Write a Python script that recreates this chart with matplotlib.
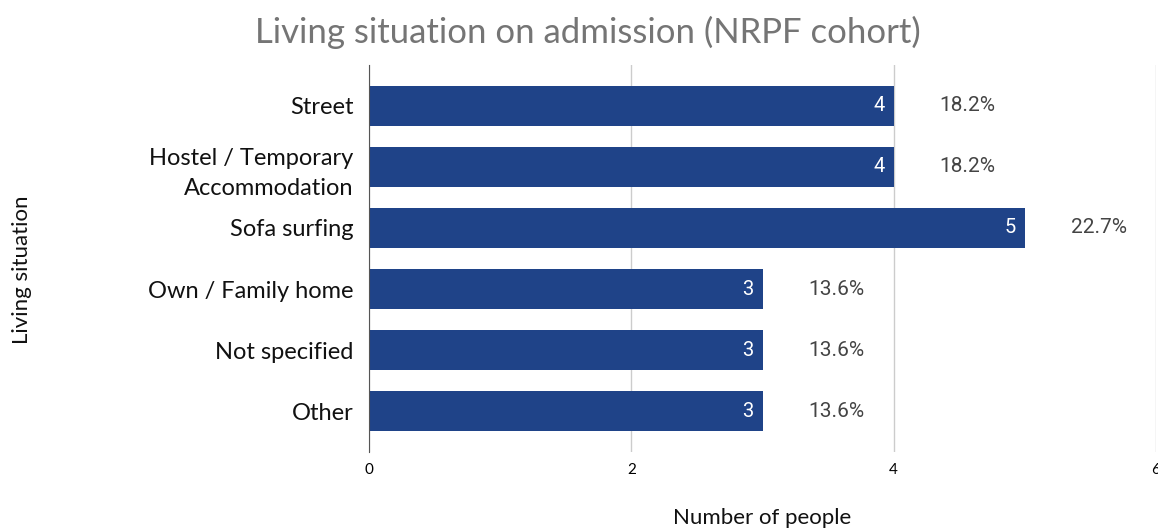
"""Living situation on admission (NRPF cohort) - horizontal bar chart."""

import matplotlib.pyplot as plt

categories = [
    "Street",
    "Hostel / Temporary\nAccommodation",
    "Sofa surfing",
    "Own / Family home",
    "Not specified",
    "Other",
]
counts = [4, 4, 5, 3, 3, 3]
percents = ["18.2%", "18.2%", "22.7%", "13.6%", "13.6%", "13.6%"]
xticks = [0, 2, 4, 6]

BAR = "#1f4388"
LABEL_FONT = ["Lato", "DejaVu Sans"]
VALUE_FONT = ["Roboto", "DejaVu Sans"]


def main() -> None:
    fig = plt.figure(figsize=(11.58, 5.31), dpi=100)
    ax = fig.add_axes([369 / 1158, 1 - 452 / 531, (1156 - 369) / 1158, (452 - 65) / 531])

    pos = list(range(len(categories)))
    ax.barh(pos, counts, height=0.65, color=BAR, zorder=3)

    for y, c, p in zip(pos, counts, percents):
        ax.text(c - 0.07, y, str(c), ha="right", va="center", color="white",
                fontsize=14.5, family=VALUE_FONT, zorder=4)
        ax.text(c + 0.35, y, p, ha="left", va="center", color="#444444",
                fontsize=15, family=VALUE_FONT)

    ax.set_xlim(0, 6)
    ax.set_ylim(len(categories) - 1 + 0.665, -0.665)
    ax.set_xticks(xticks)
    ax.set_xticklabels([str(t) for t in xticks], family=LABEL_FONT, fontsize=11)
    ax.set_yticks(pos)
    ax.set_yticklabels(categories, family=LABEL_FONT, fontsize=17, color="#111111",
                       linespacing=1.55)
    ax.tick_params(axis="both", length=0)
    ax.tick_params(axis="x", pad=8)
    ax.tick_params(axis="y", pad=11)

    ax.grid(axis="x", color="#cccccc", linewidth=1, zorder=0)
    for side in ("top", "right", "bottom"):
        ax.spines[side].set_visible(False)
    ax.spines["left"].set_color("#555555")
    ax.spines["left"].set_zorder(5)

    fig.text(0.5075, 1 - 32 / 531, "Living situation on admission (NRPF cohort)",
             ha="center", va="center", fontsize=25, color="#757575", family=LABEL_FONT)
    fig.text(762 / 1158, 1 - 518 / 531, "Number of people", ha="center", va="center",
             fontsize=16, color="#111111", family=LABEL_FONT)
    fig.text(22 / 1158, 1 - 270 / 531, "Living situation", ha="center", va="center",
             rotation=90, fontsize=16, color="#111111", family=LABEL_FONT)

    fig.savefig("out.png", dpi=100)


if __name__ == "__main__":
    main()
